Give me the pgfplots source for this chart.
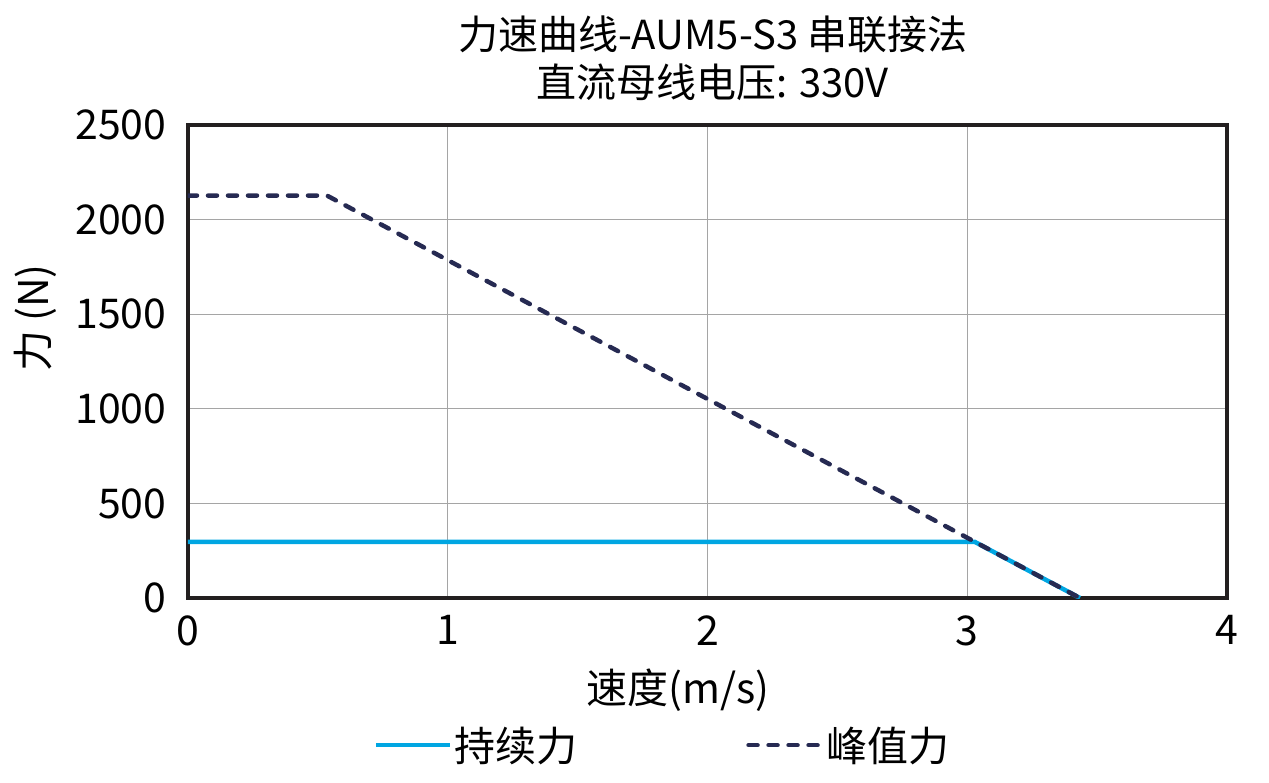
\documentclass[border=0pt]{standalone}
\usepackage{fontspec}
\setmainfont{Noto Sans CJK SC}
\usepackage{pgfplots}
\pgfplotsset{compat=1.18}
\definecolor{contblue}{RGB}{0,166,226}
\definecolor{peaknavy}{RGB}{38,42,82}
\definecolor{framek}{RGB}{35,31,32}
\definecolor{gridg}{RGB}{165,165,165}
\begin{document}
\begin{tikzpicture}
\begin{axis}[
  at={(0,0)}, anchor=south west,
  scale only axis, width=1039bp, height=473bp,
  xmin=0, xmax=4, ymin=0, ymax=2500,
  xtick={0,1,2,3,4}, ytick={0,500,1000,1500,2000,2500},
  major tick length=0pt,
  grid=major,
  major grid style={draw=gridg, line width=1.3bp},
  axis line style={draw=framek, line width=3.8bp},
  font=\fontsize{41bp}{48bp}\selectfont,
  tick label style={font=\fontsize{41bp}{48bp}\selectfont},
  /pgf/number format/assume math mode=true,
  /pgf/number format/1000 sep={},
  xticklabel style={yshift=-14bp},
  yticklabel style={xshift=-18bp},
  title={力速曲线-AUM5-S3 串联接法\\直流母线电压: 330V},
  title style={align=center, font=\fontsize{40bp}{48bp}\selectfont, at={(axis description cs:0.505,1)}, anchor=south, yshift=15bp},
  xlabel={速度(m/s)},
  xlabel style={at={(axis description cs:0.4716,-0.1945)}, anchor=center},
  ylabel={力 (N)},
  ylabel style={at={(axis description cs:-0.147,0.592)}, anchor=center},
  legend columns=2,
  legend style={at={(axis description cs:0.457,-0.311)}, anchor=center, draw=none, fill=none,
    font=\fontsize{41bp}{48bp}\selectfont, inner sep=0pt,
    /tikz/every even column/.append style={column sep=167bp}},
  legend image code/.code={\draw[#1] (0bp,0bp) -- (74bp,0bp);},
]
\addplot[contblue, line width=4.5bp] coordinates {(0,296) (3.03,296) (3.434,0)};
\addlegendentry{持续力}
\addplot[peaknavy, line width=4.5bp, line cap=round, dash pattern=on 9bp off 11bp] coordinates {(0,2127) (0.535,2127) (3.434,0)};
\addlegendentry{峰值力}
\end{axis}
\pgfresetboundingbox
\useasboundingbox (-188bp,-185bp) rectangle (1081bp,598bp);
\end{tikzpicture}
\end{document}
